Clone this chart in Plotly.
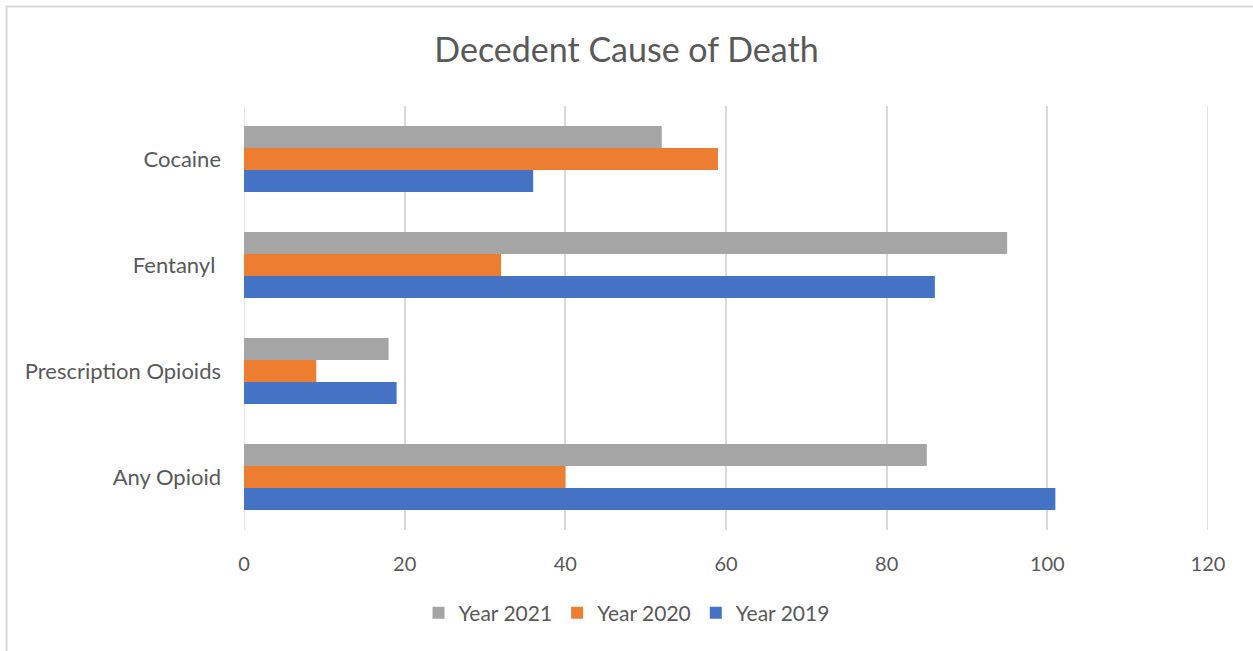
import plotly.graph_objects as go

# Categories listed bottom to top
categories = ["Any Opioid", "Prescription Opioids", "Fentanyl\u00a0", "Cocaine"]
year_2019 = [101, 19, 86, 36]
year_2020 = [40, 9, 32, 59]
year_2021 = [85, 18, 95, 52]
x_ticks = [0, 20, 40, 60, 80, 100, 120]

W, H = 1253, 651
L, R, T, B = 244, 45, 106, 121
PW, PH = W - L - R, H - T - B

FONT = "Lato"
TEXT = "#595959"
GRID = "#d9d9d9"

fig = go.Figure()
for name, vals, color in [
    ("Year 2019", year_2019, "#4472c4"),
    ("Year 2020", year_2020, "#ed7d31"),
    ("Year 2021", year_2021, "#a5a5a5"),
]:
    fig.add_trace(go.Bar(
        y=categories, x=vals, name=name, orientation="h",
        marker=dict(color=color, line=dict(width=0)),
    ))


def px_x(p):
    return (p - L) / PW


def px_y(p):
    return (H - B - p) / PH


# Outer frame lines (top and left edges)
fig.add_shape(type="line", xref="paper", yref="paper",
              x0=px_x(6), x1=px_x(W + 5), y0=px_y(6.5), y1=px_y(6.5),
              line=dict(color=GRID, width=2))
fig.add_shape(type="line", xref="paper", yref="paper",
              x0=px_x(6.5), x1=px_x(6.5), y0=px_y(6), y1=px_y(H + 5),
              line=dict(color=GRID, width=2))

fig.update_layout(
    width=W, height=H,
    margin=dict(l=L, r=R, t=T, b=B),
    paper_bgcolor="white", plot_bgcolor="white",
    barmode="group", bargap=0.377, bargroupgap=0,
    font=dict(family=FONT, color=TEXT, size=20),
    title=dict(text="Decedent Cause of Death", x=0.5, xref="container",
               xanchor="center", y=1 - 50 / H, yanchor="middle",
               font=dict(size=34, color=TEXT, family=FONT)),
    legend=dict(orientation="h", x=0.5, xanchor="center", xref="container",
                y=1 - 613 / H, yref="container", yanchor="middle",
                traceorder="reversed", font=dict(size=21, color=TEXT),
                itemwidth=30),
    showlegend=True,
)
fig.update_xaxes(range=[0, 120], tickvals=x_ticks, showgrid=True,
                 gridcolor=GRID, gridwidth=1.5, zeroline=False,
                 showline=False, ticks="", ticklabelstandoff=20,
                 tickfont=dict(size=20, color=TEXT), fixedrange=True)
fig.update_yaxes(showgrid=False, zeroline=False, showline=False, ticks="",
                 ticklabelstandoff=22, tickfont=dict(size=22, color=TEXT),
                 fixedrange=True)
# Gridlines at both ends of the value axis
fig.add_vline(x=0, line=dict(color=GRID, width=1.5), layer="below")
fig.add_vline(x=120, line=dict(color=GRID, width=1.5), layer="below")

fig.write_html("out.html")
